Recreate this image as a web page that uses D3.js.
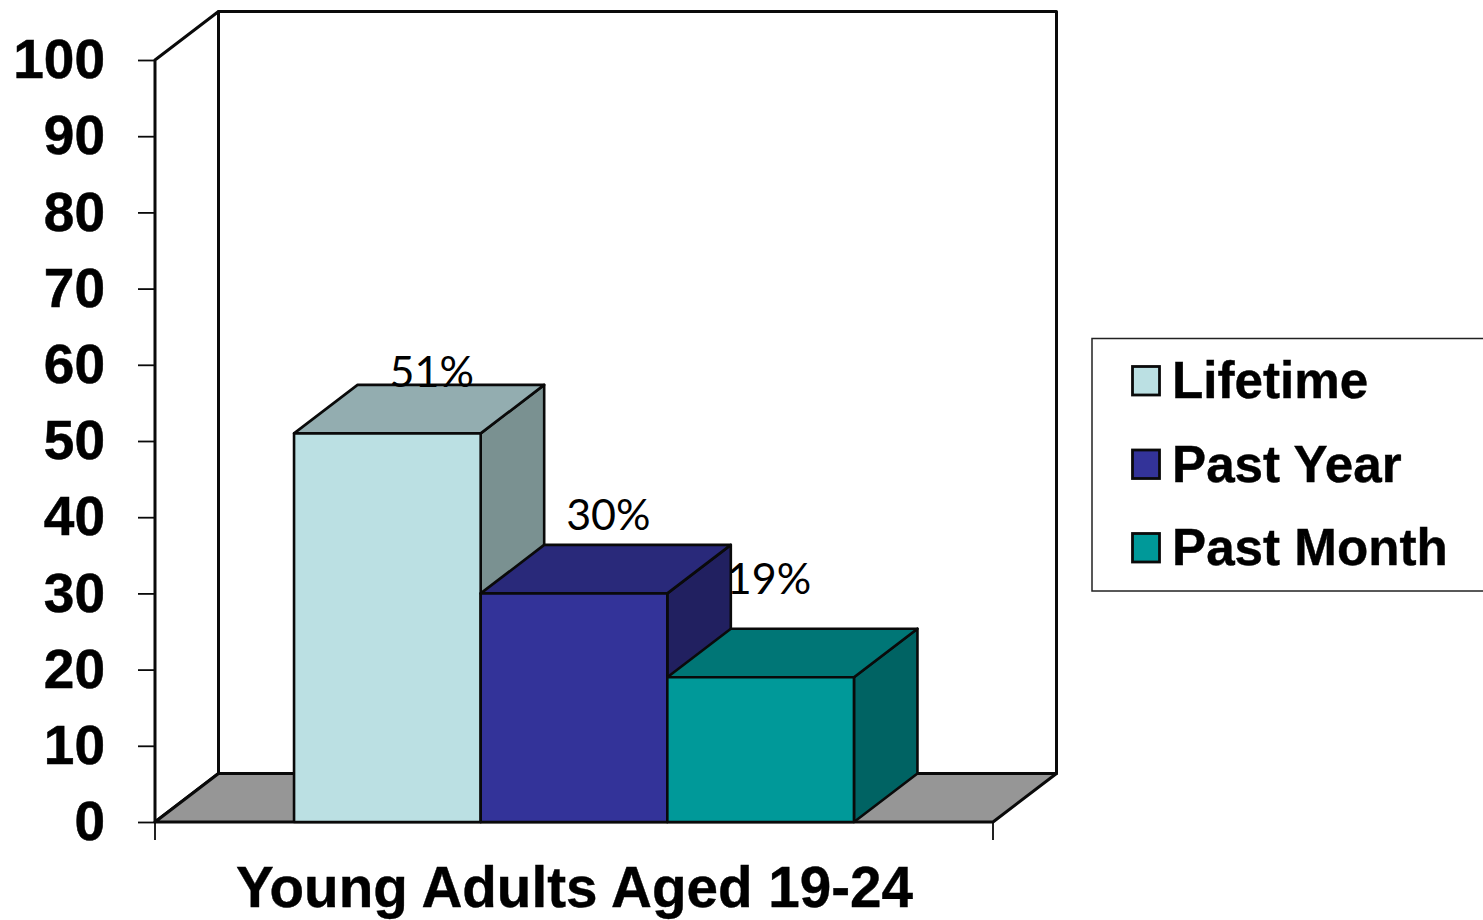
<!DOCTYPE html>
<html>
<head>
<meta charset="utf-8">
<script src="https://cdn.jsdelivr.net/npm/d3@7/dist/d3.min.js"></script>
<style>
  html, body { margin: 0; padding: 0; background: #fff; overflow: hidden; }
  svg { display: block; }
  .bold { font-family: "Liberation Sans", Arial, sans-serif; font-weight: 700; fill: #000; }
  .value { font-family: Lato, "Open Sans", sans-serif; font-size: 43px; fill: #000; }
</style>
</head>
<body>
<svg id="chart" width="1483" height="920"></svg>
<script>
const categories = ["Young Adults Aged 19-24"];
const seriesNames = ["Lifetime", "Past Year", "Past Month"];
const seriesValues = [51, 30, 19];
const valueLabels = ["51%", "30%", "19%"];
const yTicks = [0, 10, 20, 30, 40, 50, 60, 70, 80, 90, 100];
const frontColors = ["#BBE0E3", "#333399", "#009999"];
const topColors = ["#93ADB0", "#29297A", "#007676"];
const sideColors = ["#7A9191", "#212060", "#006363"];

const depthX = 63.5, depthY = -48.5;
const ink = "#0a0a0a";

const svg = d3.select("#chart");
const y = d3.scaleLinear().domain([0, 100]).range([822, 60]);
const x0 = d3.scaleBand().domain(categories).range([155, 993]);
const x1 = d3.scaleBand().domain(seriesNames).range(x0.range()).paddingInner(0).paddingOuter(0.745);
const poly = pts => pts.map(p => p.join(",")).join(" ");

// Back and side walls
const [xl, xr] = x0.range();
const wall = svg.append("g").attr("stroke", ink).attr("stroke-width", 3).attr("stroke-linejoin", "round");
wall.append("polygon")
  .attr("fill", "#fff")
  .attr("points", poly([[xl + depthX, y(100) + depthY], [xr + depthX, y(100) + depthY], [xr + depthX, y(0) + depthY], [xl + depthX, y(0) + depthY]]));
wall.append("polygon")
  .attr("fill", "#fff")
  .attr("points", poly([[xl, y(100)], [xl + depthX, y(100) + depthY], [xl + depthX, y(0) + depthY], [xl, y(0)]]));
// Floor
wall.append("polygon")
  .attr("fill", "#969696")
  .attr("points", poly([[xl, y(0)], [xl + depthX, y(0) + depthY], [xr + depthX, y(0) + depthY], [xr, y(0)]]));

// Value axis
const yAxis = d3.axisLeft(y).tickValues(yTicks).tickSize(17).tickPadding(33);
const yG = svg.append("g").attr("transform", `translate(${xl},0)`).call(yAxis);
yG.select(".domain").remove();
yG.selectAll("line").attr("stroke", ink).attr("stroke-width", 1.8);
yG.selectAll("text").attr("class", "bold").attr("font-size", 55).attr("font-family", null)
  .attr("dy", "0.32em").attr("stroke", "#000").attr("stroke-width", 0.5);

// Category axis: ticks at both ends of the floor's front edge
const xAxisG = svg.append("g").attr("transform", `translate(0,${y(0)})`);
xAxisG.selectAll("line").data(x0.range()).join("line")
  .attr("x1", d => d).attr("x2", d => d).attr("y1", 0).attr("y2", 18)
  .attr("stroke", ink).attr("stroke-width", 1.8);
xAxisG.append("text").attr("class", "bold")
  .attr("x", 574.5).attr("y", 85).attr("text-anchor", "middle")
  .attr("font-size", 56.6).attr("stroke", "#000").attr("stroke-width", 0.4)
  .text(categories[0]);

// Extruded bars, drawn left to right so each one overlaps its neighbour's side face
const bars = svg.append("g").attr("stroke", ink).attr("stroke-width", 2.6).attr("stroke-linejoin", "round");
seriesNames.forEach((name, i) => {
  const left = x1(name), right = left + x1.bandwidth();
  const top = y(seriesValues[i]), base = y(0);
  const g = bars.append("g");
  g.append("polygon").attr("fill", sideColors[i])
    .attr("points", poly([[right, top], [right + depthX, top + depthY], [right + depthX, base + depthY], [right, base]]));
  g.append("polygon").attr("fill", topColors[i])
    .attr("points", poly([[left, top], [left + depthX, top + depthY], [right + depthX, top + depthY], [right, top]]));
  g.append("polygon").attr("fill", frontColors[i])
    .attr("points", poly([[left, top], [right, top], [right, base], [left, base]]));
});

// Value labels sit above each bar's top face
const labelOffsets = [[-49, 2], [-59, -15], [-85, -35]];
svg.append("g").selectAll("text").data(valueLabels).join("text")
  .attr("class", "value")
  .attr("text-anchor", "middle")
  .attr("x", (d, i) => x1(seriesNames[i]) + x1.bandwidth() + labelOffsets[i][0])
  .attr("y", (d, i) => y(seriesValues[i]) + depthY + labelOffsets[i][1])
  .text(d => d);

// Legend, running off the right edge of the page
const legend = svg.append("g");
legend.append("rect").attr("x", 1092).attr("y", 338.5).attr("width", 420).attr("height", 252.5)
  .attr("fill", "#fff").attr("stroke", "#222").attr("stroke-width", 1.5);
const legendY = d3.scalePoint().domain(seriesNames).range([381, 548]);
const items = legend.selectAll("g").data(seriesNames).join("g")
  .attr("transform", d => `translate(0,${legendY(d)})`);
items.append("rect").attr("x", 1132.5).attr("y", -14.5).attr("width", 27).attr("height", 28.5)
  .attr("fill", (d, i) => frontColors[i]).attr("stroke", ink).attr("stroke-width", 2.8);
items.append("text").attr("class", "bold").attr("x", 1172).attr("y", 17)
  .attr("font-size", 51.2).attr("stroke", "#000").attr("stroke-width", 0.4)
  .text(d => d);
</script>
</body>
</html>
